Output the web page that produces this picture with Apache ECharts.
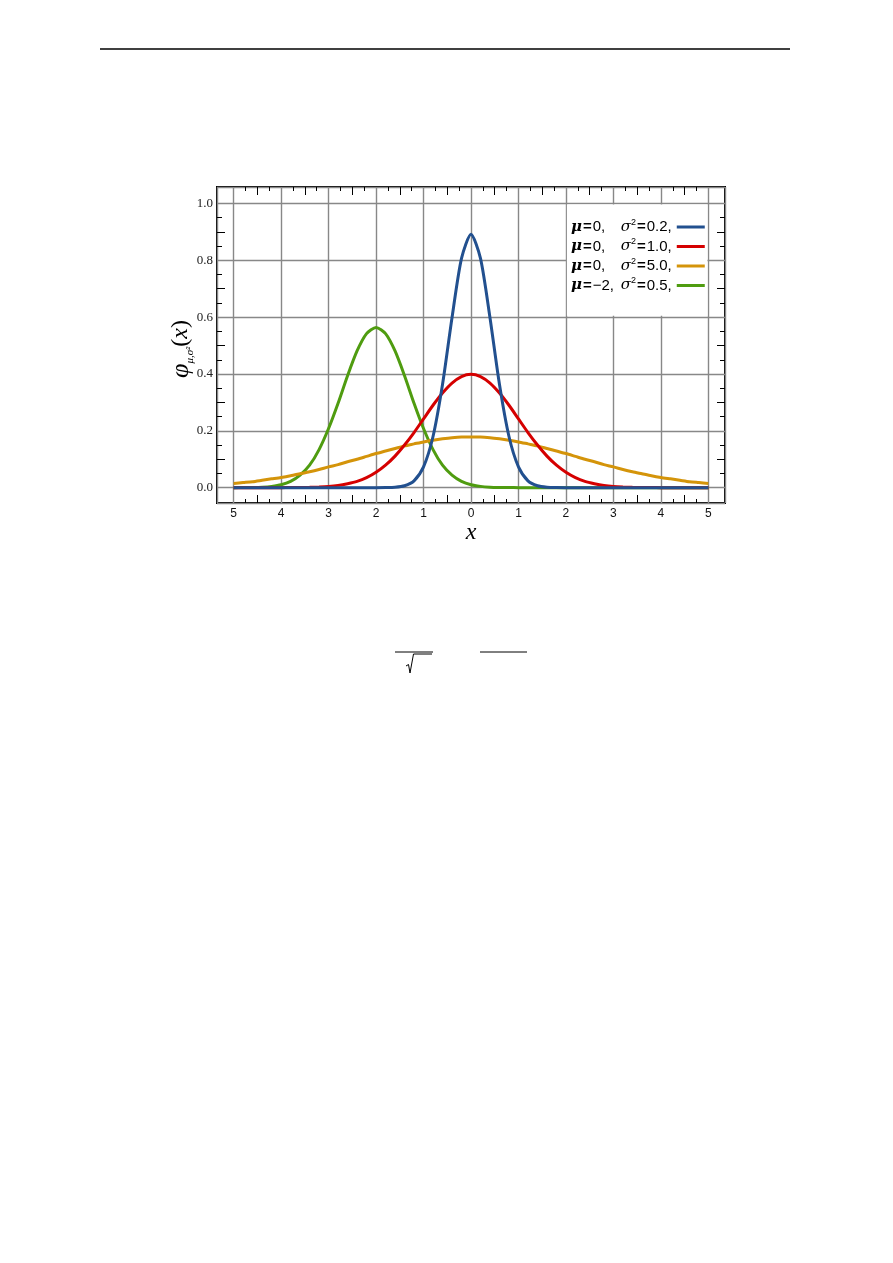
<!DOCTYPE html>
<html>
<head>
<meta charset="utf-8">
<script src="https://cdn.jsdelivr.net/npm/echarts@6/dist/echarts.min.js"></script>
<style>
html, body { margin: 0; padding: 0; background: #fff; }
#chart_wrap { width: 893px; height: 1263px; }
</style>
</head>
<body>
<div id="chart_wrap"></div>
<script>
// sample points along x
var xs = [-5.0, -4.8, -4.6, -4.4, -4.2, -4.0, -3.8, -3.6, -3.4, -3.2, -3.0, -2.8, -2.6,
    -2.4, -2.2, -2.0, -1.8, -1.6, -1.4, -1.2, -1.0, -0.8, -0.6, -0.4, -0.2, 0.0,
    0.2, 0.4, 0.6, 0.8, 1.0, 1.2, 1.4, 1.6, 1.8, 2.0, 2.2, 2.4, 2.6, 2.8, 3.0,
    3.2, 3.4, 3.6, 3.8, 4.0, 4.2, 4.4, 4.6, 4.8, 5.0];

// curve heights
var yBlue = [0, 0, 0, 0, 0, 0, 0, 0, 0, 0, 0, 0, 0, 0, 0, 0,
    0.0003, 0.0015, 0.0066, 0.024, 0.073, 0.180, 0.363, 0.598, 0.807, 0.892,
    0.807, 0.598, 0.363, 0.180, 0.073, 0.024, 0.0066, 0.0015, 0.0003,
    0, 0, 0, 0, 0, 0, 0, 0, 0, 0, 0, 0, 0, 0, 0, 0];
var yRed = [0, 0, 0, 0, 0, 0.0001, 0.0003, 0.0006, 0.0012, 0.0024, 0.0044, 0.008, 0.014,
    0.022, 0.035, 0.054, 0.079, 0.111, 0.150, 0.194, 0.242, 0.290, 0.333, 0.368, 0.391, 0.399,
    0.391, 0.368, 0.333, 0.290, 0.242, 0.194, 0.150, 0.111, 0.079, 0.054, 0.035, 0.022,
    0.014, 0.008, 0.0044, 0.0024, 0.0012, 0.0006, 0.0003, 0.0001, 0, 0, 0, 0, 0];
var yOrange = [0.015, 0.018, 0.021, 0.026, 0.031, 0.036, 0.042, 0.049, 0.056, 0.064, 0.073,
    0.081, 0.091, 0.100, 0.110, 0.120, 0.129, 0.138, 0.147, 0.154, 0.161, 0.167, 0.172,
    0.176, 0.178, 0.178, 0.178, 0.176, 0.172, 0.167, 0.161, 0.154, 0.147, 0.138, 0.129,
    0.120, 0.110, 0.100, 0.091, 0.081, 0.073, 0.064, 0.056, 0.049, 0.042, 0.036, 0.031,
    0.026, 0.021, 0.018, 0.015];
var yGreen = [0.0001, 0.0002, 0.0007, 0.0018, 0.0045, 0.010, 0.022, 0.044, 0.079, 0.134,
    0.208, 0.297, 0.394, 0.481, 0.542, 0.564, 0.542, 0.481, 0.394, 0.297, 0.208, 0.134,
    0.079, 0.044, 0.022, 0.010, 0.0045, 0.0018, 0.0007, 0.0002, 0.0001,
    0, 0, 0, 0, 0, 0, 0, 0, 0, 0, 0, 0, 0, 0, 0, 0, 0, 0, 0, 0];

// legend entries
var muLabels = ['0', '0', '0', '\u22122'];
var varLabels = ['0.2', '1.0', '5.0', '0.5'];
var seriesColors = ['#22508f', '#d50000', '#d4940a', '#4f9c10'];

// axis ticks
var xLabelTicks = [-5, -4, -3, -2, -1, 0, 1, 2, 3, 4, 5];
var xHalfTicks = [-4.5, -3.5, -2.5, -1.5, -0.5, 0.5, 1.5, 2.5, 3.5, 4.5];
var xQuarterTicks = [-4.75, -4.25, -3.75, -3.25, -2.75, -2.25, -1.75, -1.25, -0.75, -0.25,
    0.25, 0.75, 1.25, 1.75, 2.25, 2.75, 3.25, 3.75, 4.25, 4.75];
var yLabelTicks = [0, 0.2, 0.4, 0.6, 0.8, 1.0];
var yHalfTicks = [0.1, 0.3, 0.5, 0.7, 0.9];
var yQuarterTicks = [0.05, 0.15, 0.25, 0.35, 0.45, 0.55, 0.65, 0.75, 0.85, 0.95];

var X_MIN = -5.35, X_MAX = 5.35, Y_MIN = -0.054, Y_MAX = 1.058;

var chart = echarts.init(document.getElementById('chart_wrap'));

var legendNames = [];
for (var i = 0; i < muLabels.length; i++) {
    legendNames.push('\u03bc=' + muLabels[i] + ', \u03c3\u00b2=' + varLabels[i]);
}

function pairs(ys) {
    var res = [];
    for (var i = 0; i < xs.length; i++) res.push([xs[i], ys[i]]);
    return res;
}

function tickAxis(dim, pos, values, len) {
    return {
        type: 'value',
        position: pos,
        min: dim === 'x' ? X_MIN : Y_MIN,
        max: dim === 'x' ? X_MAX : Y_MAX,
        axisLine: { show: false, onZero: false },
        axisLabel: { show: false },
        splitLine: { show: false },
        axisTick: {
            show: true, inside: true, length: len, customValues: values,
            lineStyle: { color: '#000', width: 1 }
        }
    };
}

var lineSeries = function (idx, ys, z) {
    return {
        name: legendNames[idx],
        type: 'line',
        data: pairs(ys),
        smooth: 0.25,
        showSymbol: false,
        symbol: 'none',
        z: z,
        lineStyle: { color: seriesColors[idx], width: 3 },
        itemStyle: { color: seriesColors[idx] },
        emphasis: { disabled: true }
    };
};

var txt = { color: '#000', lineHeight: 18, align: 'left' };
var option = {
    backgroundColor: '#fff',
    animation: false,
    grid: {
        left: 217, top: 187, width: 508, height: 316,
        show: true, borderColor: '#000', borderWidth: 2,
        backgroundColor: 'transparent',
        outerBoundsMode: 'none'
    },
    legend: {
        orient: 'vertical',
        left: 571, top: 218,
        align: 'right',
        icon: 'rect',
        itemWidth: 28, itemHeight: 3, itemGap: 3,
        padding: 0,
        selectedMode: false,
        data: legendNames,
        formatter: function (name) {
            var i = legendNames.indexOf(name);
            return '{mu|\u03bc}{eq|=}{v1|' + muLabels[i] + ',}{sg|\u03c3}{sup|2}{eq|=}{v2|' + varLabels[i] + ',}';
        },
        textStyle: {
            rich: {
                mu: echarts.util.extend({ fontFamily: 'DejaVu Serif', fontStyle: 'italic', fontWeight: 'bold', fontSize: 15 }, txt),
                eq: echarts.util.extend({ fontFamily: 'Liberation Sans', fontWeight: 'bold', fontSize: 15, padding: [0, 1, 0, 1] }, txt),
                v1: echarts.util.extend({ fontFamily: 'Liberation Sans', fontSize: 15, width: 28 }, txt),
                sg: echarts.util.extend({ fontFamily: 'DejaVu Serif', fontStyle: 'italic', fontSize: 15 }, txt),
                sup: { fontFamily: 'Liberation Sans', fontSize: 9, color: '#000', lineHeight: 10, verticalAlign: 'top', align: 'left' },
                v2: echarts.util.extend({ fontFamily: 'Liberation Sans', fontSize: 15 }, txt)
            }
        }
    },
    xAxis: [
        {
            type: 'value', position: 'bottom', min: X_MIN, max: X_MAX, splitNumber: 10,
            name: 'x', nameLocation: 'middle', nameGap: 16,
            nameTextStyle: { fontFamily: 'Liberation Serif', fontStyle: 'italic', fontSize: 24, color: '#000' },
            axisLine: { show: false, onZero: false },
            axisTick: { show: false },
            axisLabel: {
                customValues: xLabelTicks, margin: 5,
                fontFamily: 'Liberation Sans', fontSize: 12, color: '#111',
                formatter: function (v) { return String(Math.abs(Math.round(v))); }
            },
            splitLine: { show: true, lineStyle: { color: '#888', width: 1.4 } }
        },
        tickAxis('x', 'bottom', xQuarterTicks, 4),
        tickAxis('x', 'bottom', xHalfTicks, 8),
        tickAxis('x', 'top', xQuarterTicks, 4),
        tickAxis('x', 'top', xHalfTicks, 8)
    ],
    yAxis: [
        {
            type: 'value', position: 'left', min: Y_MIN, max: Y_MAX, splitNumber: 5,
            axisLine: { show: false, onZero: false },
            axisTick: { show: false },
            axisLabel: {
                customValues: yLabelTicks, margin: 4,
                fontFamily: 'Liberation Serif', fontSize: 13, color: '#222',
                formatter: function (v) { return v.toFixed(1); }
            },
            splitLine: { show: true, lineStyle: { color: '#888', width: 1.4 } }
        },
        tickAxis('y', 'left', yQuarterTicks, 5),
        tickAxis('y', 'left', yHalfTicks, 8),
        tickAxis('y', 'right', yQuarterTicks, 5),
        tickAxis('y', 'right', yHalfTicks, 8)
    ],
    series: [
        lineSeries(3, yGreen, 2),
        lineSeries(2, yOrange, 3),
        lineSeries(1, yRed, 4),
        (function () {
            var s = lineSeries(0, yBlue, 5);
            s.markArea = {
                silent: true,
                itemStyle: { color: '#fff' },
                data: [[{ coord: [2.02, 0.605] }, { coord: [4.98, 0.996] }]]
            };
            return s;
        })()
    ],
    graphic: [
        // page rule at the top
        { type: 'line', shape: { x1: 100, y1: 49, x2: 790, y2: 49 }, style: { stroke: '#000', lineWidth: 1.5 } },
        // y axis title
        {
            type: 'text', x: 181, y: 349, rotation: Math.PI / 2,
            style: {
                text: '{phi|\u03c6}{sub|\u03bc,\u03c3\u00b2}{p|(}{xv|x}{p|)}',
                align: 'center', verticalAlign: 'middle',
                rich: {
                    phi: { fontFamily: 'Liberation Serif', fontStyle: 'italic', fontSize: 26, lineHeight: 30, fill: '#000' },
                    sub: { fontFamily: 'Liberation Serif', fontStyle: 'italic', fontSize: 11, lineHeight: 12, verticalAlign: 'bottom', fill: '#000' },
                    p: { fontFamily: 'Liberation Serif', fontSize: 24, lineHeight: 30, fill: '#000' },
                    xv: { fontFamily: 'Liberation Serif', fontStyle: 'italic', fontSize: 24, lineHeight: 30, fill: '#000' }
                }
            }
        },
        // formula fragments below the chart
        { type: 'line', shape: { x1: 395, y1: 652, x2: 433, y2: 652 }, style: { stroke: '#000', lineWidth: 1 } },
        { type: 'polyline', shape: { points: [[406, 666], [408.5, 664.5], [410, 673], [413.5, 654], [432, 654]] }, style: { stroke: '#000', fill: null, lineWidth: 1 } },
        { type: 'line', shape: { x1: 480, y1: 652, x2: 527, y2: 652 }, style: { stroke: '#000', lineWidth: 1 } }
    ]
};

chart.setOption(option);
</script>
</body>
</html>
